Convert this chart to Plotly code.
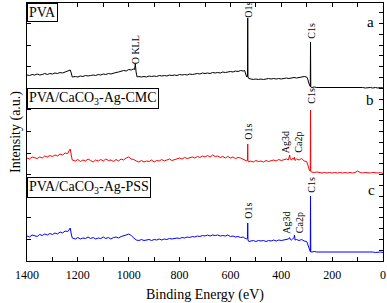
import plotly.graph_objects as go

# Binding energy grids (eV) and intensities (a.u., stacked as in the figure)
pva_x = [1400,1390,1380,1370,1360,1350,1340,1330,1320,1310,
         1300,1290,1280,1270,1260,1250,1240,1235,1230,1226,
         1222,1210,1200,1190,1180,1170,1160,1150,1140,1130,
         1120,1110,1100,1090,1080,1070,1060,1050,1040,1030,
         1020,1010,1000,990,982,977,974,971,967,960,
         950,940,930,920,910,900,890,880,870,860,
         850,840,830,820,810,800,790,780,770,760,
         750,740,730,720,710,700,690,680,670,660,
         650,640,630,620,610,600,590,580,570,560,
         550,544,540,536,533,532,531,528,520,510,
         500,490,480,470,460,450,440,430,420,410,
         400,390,380,370,360,350,340,330,320,310,
         300,296,292,289,286,285,284,280,270,260,
         250,240,230,220,210,200,190,180,170,160,
         150,140,130,120,110,100,90,80,70,60,
         50,40,30,20,10,0]
pva_y = [186,185.5,186.5,186,187,186,186.5,187.5,186.5,187.5,
         187,188,187.5,188.5,188,189,189.5,190.5,191,188,
         184,184.5,184,185,184.5,185.5,185,185.5,186,185.5,
         186.5,186,187,186.5,187.5,187,188,188.5,189,189.5,
         190.5,190,191.5,191,192,191.5,197,189,184,184.5,
         184,184.5,184,185,184.5,185,184.5,185.5,185,185.5,
         185,186,185.5,186,185.5,186.5,186,186.5,186,187,
         186.5,187,187.5,187,188,187.5,188,187.5,188.5,188,
         188.5,188,189,188.5,189,189.5,189,190,189.5,190.5,
         190,190.5,187,184,185,243,184,182.5,182,181.5,
         182,181.5,182,181.5,182,182.5,182,182.5,182,182.5,
         182,182.5,183,182.5,183,183.5,183,183.5,184,184.5,
         184,182,178,175.5,174.5,219,174,173.5,174,173.5,
         173.5,174,173.5,173.5,174,173.5,173.5,174,173.5,173.5,
         173.5,174,173.5,173.5,173.5,174,173.5,173.5,173,173.5,
         173.5,173,173.5,173,173.5,173]

comp_x = [1400,1390,1380,1370,1360,1350,1340,1330,1320,1310,
          1300,1290,1280,1270,1260,1250,1240,1235,1230,1226,
          1222,1210,1200,1190,1180,1170,1160,1150,1140,1130,
          1120,1110,1100,1090,1080,1070,1060,1050,1040,1030,
          1020,1010,1000,990,980,970,960,950,940,930,
          920,910,900,890,880,870,860,850,840,830,
          820,810,800,790,780,770,760,750,740,730,
          720,710,700,690,680,670,660,650,640,630,
          620,610,600,590,580,570,560,550,544,540,
          536,533,532,531,528,520,510,500,490,480,
          470,460,450,440,430,420,410,400,390,380,
          372,369,367,365,360,355,350,348,346,340,
          330,320,310,300,296,292,289,286,285,284,
          280,270,260,250,240,230,220,210,200,190,
          180,170,160,150,140,130,120,110,100,90,
          80,70,60,50,40,30,20,10,0]
cmc_y = [103,102,104,103.5,102.5,104,103,105,104,105.5,
         104.5,106,105,107,106,108,107.5,110,112,106,
         101,100,101.5,99.5,101,100,102,100.5,99,101,
         100,101.5,100,102,100.5,101,99.5,101.5,100,102,
         101,103,104,102,101.5,100,99,100.5,99,100,
         99.5,101,99,100.5,100,101.5,100,101,102,100.5,
         101.5,102,103,102,103.5,102.5,103,104,103,104.5,
         103.5,105,104,105.5,104,106,104.5,105,103.5,104.5,
         103,104.5,103,104,102.5,103.5,103,102,101,100.5,
         100,101,117,100,99,100,99,100.5,99.5,100,
         99,100.5,99.5,100,101,100,101.5,100.5,101,102,
         101,103,106,102,101,103,101.5,104,100.5,102,
         101,102.5,100,99.5,97,93,90.5,90,151,89.5,
         89,88.5,89,88.5,88,88.5,88,88.5,88,88.5,
         88,88.5,88,88.5,88,88.5,88,88.5,90,88.5,
         88,88.5,88,88,88.5,88,88,88.5,87.5]
pss_y = [25,24,26,25.5,24.5,26.5,25.5,27,26,27.5,
         26.5,28,27,29,28,30,29.5,31,33,27,
         23,22,23.5,22,23,22.5,24,22.5,23.5,22,
         23,22.5,24,22.5,23.5,22,23.5,24,23,24.5,
         25,26,27,25.5,23,21,20.5,21.5,20.5,21,
         21.5,20.5,21.5,21,22,21,22,21.5,22.5,22,
         22.5,23,22.5,23.5,23,24,23.5,24.5,24,25,
         24.5,25.5,25,26,25,26,25.5,26,25,25.5,
         25,26,24.5,25,24,24.5,23.5,24,23,22.5,
         22,23,38,21,19.5,20,20.5,19.5,20.5,20,
         20.5,19.5,20.5,20,21,20,21,20.5,21,21.5,
         22,23,23.5,21.5,21,22,23.5,26,21,21.5,
         20.5,21.5,20,19.5,16,12.5,10,9.5,65,9,
         9,9.5,9,9,9.5,9,9,9.5,9,9,
         9.5,9,9,9.5,9,9,9.5,9,9,9,
         9,9.5,9,9,9,8.5,9,9,8.5]

sample_names = ["PVA", "PVA/CaCO<sub>3</sub>-Ag-CMC", "PVA/CaCO<sub>3</sub>-Ag-PSS"]
panel_letters = ["a", "b", "c"]
x_ticks = [1400, 1200, 1000, 800, 600, 400, 200, 0]

# peak labels: (text, energy, intensity)
peak_labels = [("O KLL", 974, 211), ("O1s", 532, 251), ("C1s", 284, 230),
               ("O1s", 532, 129), ("Ag3d<br>Ca2p", 357, 119), ("C1s", 284, 165),
               ("O1s", 532, 50), ("Ag3d<br>Ca2p", 355, 38), ("C1s", 284, 76)]
letter_pos = [(51, 239), (51, 161), (47, 71)]
box_tops = [1.0, 0.6705, 0.3256]

FONT = "'Liberation Serif', 'Times New Roman', Times, serif"

fig = go.Figure()
fig.add_trace(go.Scatter(x=pva_x, y=pva_y, mode="lines",
                         line=dict(color="#000000", width=1), showlegend=False))
fig.add_trace(go.Scatter(x=comp_x, y=cmc_y, mode="lines",
                         line=dict(color="#ff0000", width=1), showlegend=False))
fig.add_trace(go.Scatter(x=comp_x, y=pss_y, mode="lines",
                         line=dict(color="#0000ff", width=1), showlegend=False))
fig.add_trace(go.Scatter(x=[None], y=[None], yaxis="y2", showlegend=False,
                         hoverinfo="skip"))

for txt, ex, iy in peak_labels:
    fig.add_annotation(x=ex, y=iy, xref="x", yref="y", text=txt, showarrow=False,
                       textangle=-90, font=dict(family=FONT, size=10, color="black"))
for (lx, ly), let in zip(letter_pos, panel_letters):
    fig.add_annotation(x=lx, y=ly, xref="x", yref="y", text=let, showarrow=False,
                       font=dict(family=FONT, size=15, color="black"))
for name, top in zip(sample_names, box_tops):
    fig.add_annotation(x=0, y=top, xref="paper", yref="paper", xanchor="left",
                       yanchor="top", text=name, showarrow=False,
                       bordercolor="black", borderwidth=1, borderpad=1,
                       bgcolor="white",
                       font=dict(family=FONT, size=14, color="black"))

fig.update_layout(
    width=387, height=303,
    margin=dict(l=27, r=4, t=3, b=42, autoexpand=False),
    paper_bgcolor="white", plot_bgcolor="white",
    font=dict(family=FONT, size=12, color="black"),
    xaxis=dict(range=[1400, 0], tickvals=x_ticks, ticks="inside", ticklen=4,
               tickcolor="black", showline=True, linecolor="black", linewidth=1,
               mirror="allticks", showgrid=False, zeroline=False,
               ticklabelstandoff=3,
               minor=dict(dtick=100, ticks="inside", ticklen=4, tickcolor="black",
                          showgrid=False),
               tickfont=dict(family=FONT, size=12),
               title=dict(text="Binding Energy (eV)", font=dict(family=FONT, size=14),
                          standoff=9)),
    yaxis=dict(range=[0, 258], tick0=0, dtick=21.6, ticks="inside", ticklen=4,
               tickcolor="black", showticklabels=False, showline=True,
               linecolor="black", linewidth=1, showgrid=False, zeroline=False,
               title=dict(text="Intensity (a.u.)", font=dict(family=FONT, size=14),
                          standoff=2)),
    yaxis2=dict(range=[0, 258], tick0=0, dtick=10.8, ticks="inside", ticklen=4,
                tickcolor="black", showticklabels=False, showline=True,
                linecolor="black", linewidth=1, showgrid=False, zeroline=False,
                overlaying="y", side="right"),
)

fig.write_html("out.html", config={"displayModeBar": False},
               post_script="document.body.style.margin='0';document.body.style.padding='0';")
